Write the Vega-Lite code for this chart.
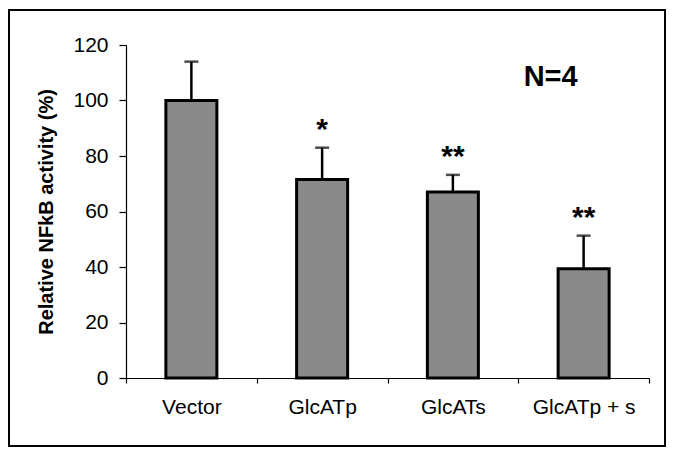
{
  "$schema": "https://vega.github.io/schema/vega-lite/v6.json",
  "width": 523,
  "height": 333,
  "autosize": {"type": "none"},
  "padding": {"left": 126, "top": 45, "right": 27, "bottom": 78},
  "background": "white",
  "config": {
    "view": {"stroke": null},
    "font": "Liberation Sans"
  },
  "data": {
    "values": [
      {"group": "Vector", "value": 100, "err": 114, "sig": ""},
      {"group": "GlcATp", "value": 71.5, "err": 83, "sig": "*"},
      {"group": "GlcATs", "value": 67, "err": 73.2, "sig": "**"},
      {"group": "GlcATp + s", "value": 39.4, "err": 51.3, "sig": "**"}
    ]
  },
  "encoding": {
    "x": {
      "field": "group",
      "type": "nominal",
      "sort": null,
      "scale": {"paddingInner": 0, "paddingOuter": 0},
      "axis": {
        "title": null,
        "labelAngle": 0,
        "labelFontSize": 21,
        "labelFont": "Liberation Sans",
        "labelColor": "black",
        "labelPadding": 13,
        "tickBand": "extent",
        "tickSize": 5,
        "tickColor": "black",
        "domainColor": "black",
        "domainWidth": 1.2,
        "tickWidth": 1.2
      }
    }
  },
  "layer": [
    {
      "mark": {"type": "rect", "stroke": "black", "strokeWidth": 1.5, "fill": null, "clip": false},
      "encoding": {
        "x": {"value": -117},
        "x2": {"value": 539},
        "y": {"value": -35},
        "y2": {"value": 401}
      }
    },
    {
      "mark": {"type": "rule", "color": "black", "strokeWidth": 2.5},
      "encoding": {
        "y": {"field": "value", "type": "quantitative"},
        "y2": {"field": "err"}
      }
    },
    {
      "mark": {"type": "tick", "color": "black", "thickness": 2.5, "size": 14, "orient": "horizontal"},
      "encoding": {
        "y": {"field": "err", "type": "quantitative"}
      }
    },
    {
      "mark": {"type": "bar", "fill": "#8a8a8a", "stroke": "black", "strokeWidth": 3, "width": {"band": 0.39}},
      "encoding": {
        "y": {
          "field": "value",
          "type": "quantitative",
          "scale": {"domain": [0, 120], "nice": false, "zero": true},
          "axis": {
            "title": "Relative NFkB activity (%)",
            "titleFontSize": 20,
            "titleFont": "Liberation Sans",
            "titleFontWeight": "bold",
            "titleColor": "black",
            "titlePadding": 16,
            "values": [0, 20, 40, 60, 80, 100, 120],
            "grid": false,
            "labelFontSize": 21,
            "labelFont": "Liberation Sans",
            "labelColor": "black",
            "labelPadding": 11,
            "tickSize": 7,
            "tickColor": "black",
            "tickWidth": 1.2,
            "domainColor": "black",
            "domainWidth": 1.2
          }
        }
      }
    },
    {
      "mark": {"type": "text", "fontSize": 30, "fontWeight": "bold", "baseline": "middle", "dy": -18, "font": "Liberation Sans"},
      "encoding": {
        "y": {"field": "err", "type": "quantitative"},
        "text": {"field": "sig"}
      }
    },
    {
      "data": {"values": [{"group": "GlcATp + s", "label": "N=4", "ypos": 108.5}]},
      "mark": {"type": "text", "fontSize": 29, "fontWeight": "bold", "baseline": "middle", "align": "center", "dx": -33, "font": "Liberation Sans"},
      "encoding": {
        "y": {"field": "ypos", "type": "quantitative"},
        "text": {"field": "label"}
      }
    }
  ]
}
